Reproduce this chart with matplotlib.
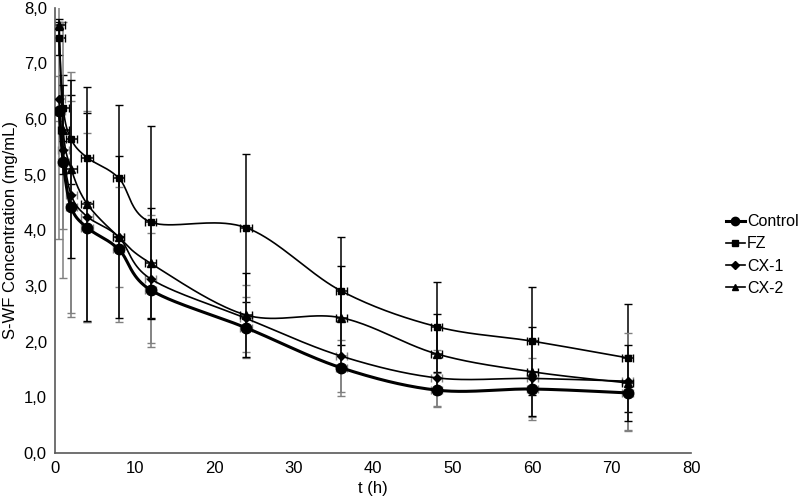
import numpy as np
import matplotlib
matplotlib.use("Agg")
import matplotlib.pyplot as plt
from matplotlib.ticker import FuncFormatter

plt.rcParams['font.family'] = ['Liberation Sans', 'DejaVu Sans']

t = [0.5, 1, 2, 4, 8, 12, 24, 36, 48, 60, 72]
control = [6.15, 5.23, 4.42, 4.05, 3.66, 2.93, 2.25, 1.53, 1.13, 1.15, 1.08]
fz      = [7.45, 6.20, 5.64, 5.31, 4.94, 4.15, 4.05, 2.91, 2.27, 2.01, 1.71]
cx1     = [6.37, 5.44, 4.64, 4.25, 3.88, 3.13, 2.42, 1.74, 1.35, 1.34, 1.29]
cx2     = [7.70, 5.81, 5.11, 4.48, 3.88, 3.41, 2.48, 2.43, 1.78, 1.46, 1.26]

control_err = [2.30, 1.20, 1.90, 1.70, 1.30, 1.03, 0.55, 0.50, 0.30, 0.55, 0.68]
fz_err      = [0.30, 0.60, 0.80, 0.80, 1.32, 1.72, 1.33, 0.97, 0.81, 0.97, 0.97]
cx1_err     = [0.40, 2.30, 2.20, 1.90, 0.90, 1.15, 0.60, 0.65, 0.50, 0.70, 0.87]
cx2_err     = [0.10, 0.80, 1.60, 2.10, 1.45, 1.00, 0.75, 0.93, 0.72, 0.80, 0.68]
t_err = 0.7

labels = ["Control", "FZ", "CX-1", "CX-2"]


def smooth(x, y, n=40):
    x = np.asarray(x, float); y = np.asarray(y, float)
    P = np.column_stack([x, y])
    out = []
    for i in range(len(P) - 1):
        p0 = P[i - 1] if i > 0 else P[i]
        p1 = P[i]; p2 = P[i + 1]
        p3 = P[i + 2] if i + 2 < len(P) else P[i + 1]
        c1 = p1 + (p2 - p0) / 6.0
        c2 = p2 - (p3 - p1) / 6.0
        s = np.linspace(0, 1, n)[:, None]
        seg = ((1 - s) ** 3) * p1 + 3 * ((1 - s) ** 2) * s * c1 + 3 * (1 - s) * s ** 2 * c2 + s ** 3 * p2
        out.append(seg if i == 0 else seg[1:])
    out = np.vstack(out)
    return out[:, 0], out[:, 1]


fig = plt.figure(figsize=(8.0, 5.03), dpi=100)
ax = fig.add_axes([0.069, 0.0994, 0.795, 0.885])

series = [
    (control, control_err, 'o', 7.5, 2.2, 6, '#808080'),
    (fz, fz_err, 's', 4.5, 1.2, 4, '#000000'),
    (cx1, cx1_err, 'D', 4.2, 1.2, 4, '#808080'),
    (cx2, cx2_err, '^', 6, 1.2, 5, '#000000'),
]

handles = []
for (vals, err, mk, ms, lw, lms, ecol), lab in zip(series, labels):
    ax.errorbar(t, vals, yerr=err, xerr=t_err, fmt='none', ecolor=ecol,
                elinewidth=1.1, capsize=3, capthick=1.0, zorder=2)
    xs, ys = smooth(t, vals)
    ax.plot(xs, ys, color='black', lw=lw, zorder=3)
    ax.plot(t, vals, linestyle='none', marker=mk, ms=ms, color='black', zorder=4)
    h, = ax.plot([], [], color='black', lw=lw, marker=mk, ms=lms, label=lab)
    handles.append(h)

ax.set_xlim(0, 80)
ax.set_ylim(0, 8)
ax.set_xticks(np.arange(0, 81, 10))
ax.set_yticks(np.arange(0, 8.01, 1))
ax.yaxis.set_major_formatter(FuncFormatter(lambda v, p: f"{v:.1f}".replace('.', ',')))
ax.tick_params(axis='both', length=0, labelsize=12, pad=6)
for s in ['top', 'right']:
    ax.spines[s].set_visible(False)
for s in ['left', 'bottom']:
    ax.spines[s].set_color('#595959')
    ax.spines[s].set_linewidth(1.2)

ax.set_xlabel("t (h)", fontsize=12, labelpad=3)
ax.set_ylabel("S-WF Concentration (mg/mL)", fontsize=12, labelpad=4)

leg = fig.legend(handles=handles, loc='center left', bbox_to_anchor=(0.899, 0.493),
                 frameon=False, fontsize=11.5, handlelength=1.2, handletextpad=0.15,
                 labelspacing=0.45, borderaxespad=0)

fig.savefig("out.png", dpi=100)
